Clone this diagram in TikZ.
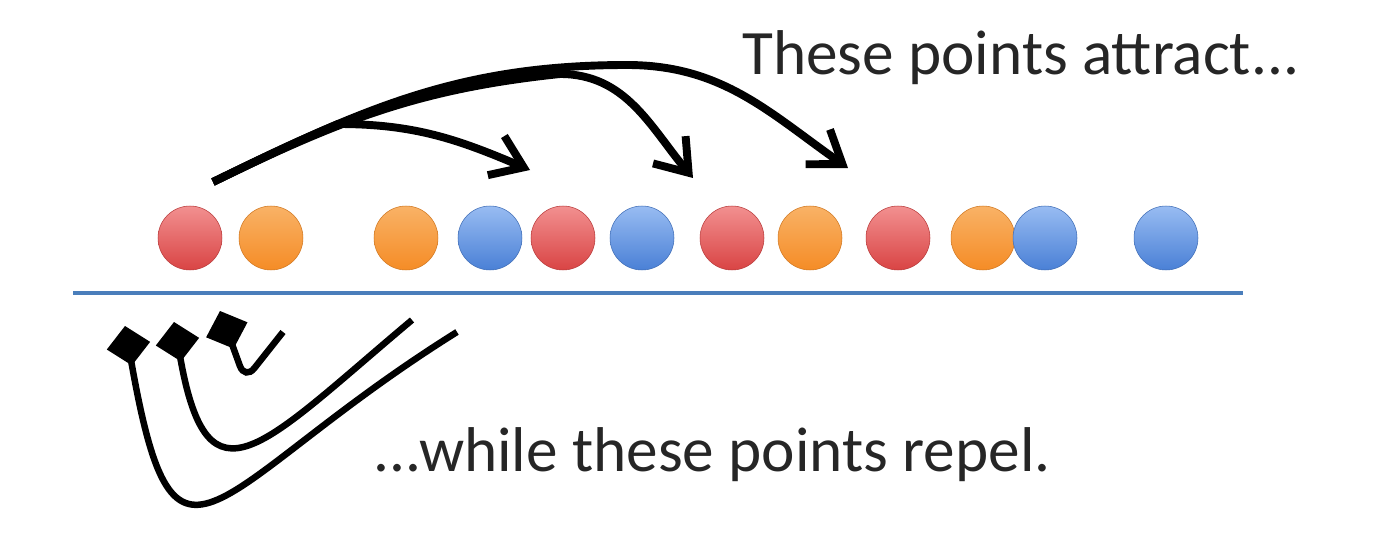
\documentclass[tikz,border=0pt]{standalone}
\usepackage{fontspec}
\setmainfont{Carlito}
\usepackage{tikz}
\usetikzlibrary{arrows.meta}
\definecolor{redtop}{HTML}{F29090}
\definecolor{redbot}{HTML}{D94444}
\definecolor{orgtop}{HTML}{F9B266}
\definecolor{orgbot}{HTML}{F58C26}
\definecolor{blutop}{HTML}{98BCF2}
\definecolor{blubot}{HTML}{4A80D6}
\definecolor{axis}{HTML}{4A7EBB}
\definecolor{txt}{HTML}{262626}
\tikzset{
  dot/.style   = {circle, minimum size=1.28cm, inner sep=0pt, line width=0.3pt},
  rdot/.style  = {dot, draw=redbot!85!black, top color=redtop, bottom color=redbot},
  odot/.style  = {dot, draw=orgbot!85!black, top color=orgtop, bottom color=orgbot},
  bdot/.style  = {dot, draw=blubot!85!black, top color=blutop, bottom color=blubot},
  pull/.style  = {-{Straight Barb[length=6mm,width=8.5mm]}, line width=4.5pt},
  push/.style  = {{Diamond[length=8mm,width=8.8mm]}-, line width=3.7pt},
  say/.style   = {font=\fontsize{36}{40}\selectfont, text=txt, inner sep=0pt,
                  anchor=base west},
}
\begin{document}
\begin{tikzpicture}[x=0.02cm, y=0.02cm]
  \useasboundingbox (0,0) rectangle (1380,552);

  % --- the points on the line ---
  \coordinate (axl) at (73,259);
  \coordinate (axr) at (1243,259);
  \draw[axis, line width=2.3pt] (axl) -- (axr);
  \foreach \c/\x [count=\i] in {r/190,o/271,o/406,b/490,r/563,b/642,
                                r/732,o/810,r/898,o/983,b/1045,b/1166}
    \node[\c dot] (d\i) at (\x,314) {};

  % --- attraction ---
  \coordinate (src) at (213,370);
  \coordinate (j1) at (338,428);
  \coordinate (j2) at (560,478);
  \coordinate (top) at (627,487);
  \coordinate (tip1) at (530,382);
  \coordinate (tip2) at (693,374);
  \coordinate (tip3) at (848,384);
  \draw[pull] (src) to[out=26,in=203] (j1) to[out=0,in=157] (tip1);
  \draw[pull] (src) to[out=26,in=186] (j2) to[out=0,in=130] (tip2);
  \draw[pull] (src) to[out=26,in=180] (top) to[out=0,in=145] (tip3);
  \node[say] (attract) at (742,477) {These points attract...};

  % --- repulsion ---
  \coordinate (q1) at (125,226);
  \coordinate (e1) at (457,220);
  \coordinate (q2) at (174,230);
  \coordinate (e2) at (412,232);
  \coordinate (q3) at (220,241);
  \coordinate (k3) at (245,172);
  \coordinate (e3) at (283,220);
  \draw[push] (q1) to[out=-80,in=-148,looseness=2.25] (e1);
  \draw[push] (q2) to[out=-80,in=-140,looseness=2.1] (e2);
  \draw[push, rounded corners=3mm] (q3) -- (k3) -- (e3);
  \node[say] (repel) at (373,81) {...while these points repel.};
\end{tikzpicture}
\end{document}
